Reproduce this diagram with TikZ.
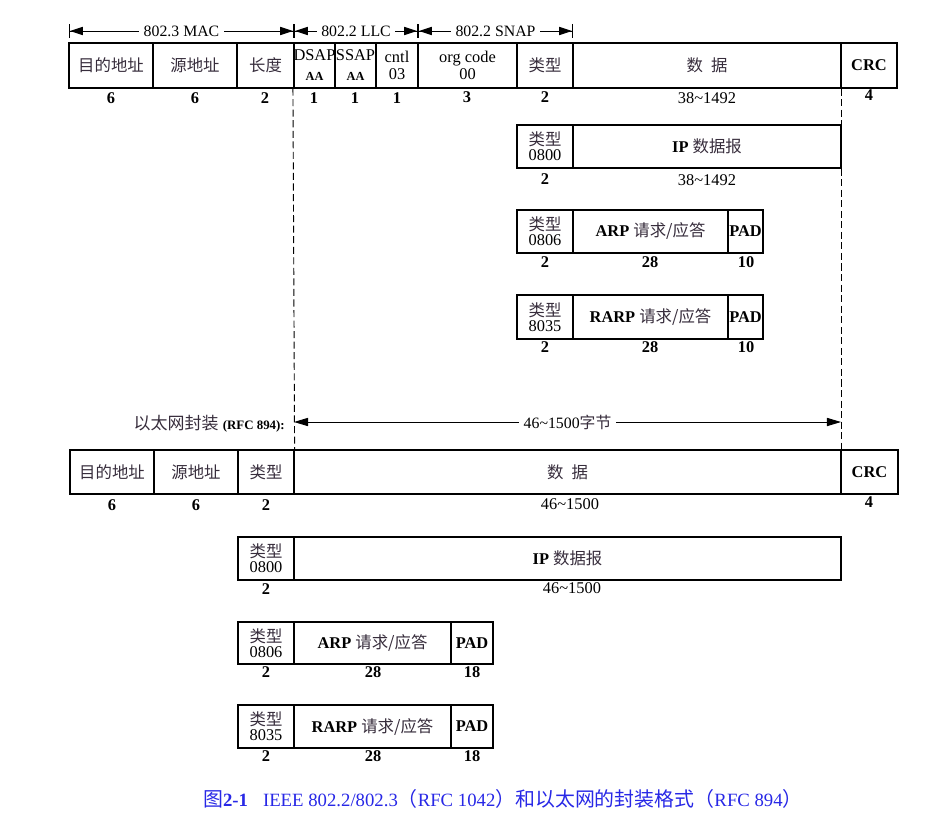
\documentclass[tikz,border=0pt]{standalone}
\usepackage{fontspec}
\setmainfont{Liberation Serif}
\newfontfamily\cjk{Noto Sans CJK SC}
\usetikzlibrary{arrows.meta}
\definecolor{hanzi}{RGB}{55,45,60}
\definecolor{capblue}{RGB}{40,40,230}
\newcommand\zh[1]{{\cjk\color{hanzi}#1}}
\newcommand\capzh[1]{{\cjk\fontsize{17}{18}\selectfont #1}}
\newcommand\tinyb[1]{{\bfseries\fontsize{10.5}{12}\selectfont #1}}

\begin{document}
\begin{tikzpicture}[x=0.03cm,y=-0.03cm,
  fieldbox/.style={draw,line width=1pt,inner sep=0pt,align=center,
    font=\fontsize{14}{16}\selectfont},
  fw/.style={minimum width=#1*0.03cm},
  fh/.style={minimum height=#1*0.03cm},
  numlbl/.style={inner sep=1pt,font=\bfseries\fontsize{14}{16}\selectfont},
  rnglbl/.style={inner sep=1pt,font=\fontsize{14}{16}\selectfont},
  spanarrow/.style={{Bar[width=12pt]Triangle[length=11pt,width=7pt]}-{Triangle[length=11pt,width=7pt]Bar[width=12pt]},line width=0.8pt},
  widearrow/.style={{Triangle[length=12pt,width=7pt]}-{Triangle[length=12pt,width=7pt]},line width=0.8pt},
  spanlbl/.style={fill=white,inner sep=4pt,font=\fontsize{13.5}{16}\selectfont},
  guide/.style={line width=0.8pt,dash pattern=on 6pt off 3pt}]

  \useasboundingbox (0,0) rectangle (930,829);

  % 802.2/802.3 header
  \coordinate (h0) at (69,31);
  \coordinate (h1) at (294,31);
  \coordinate (h2) at (418,31);
  \coordinate (h3) at (573,31);

  \node[fieldbox,fw=84,fh=45] (mdst) at (111,65.5) {\zh{目的地址}};
  \node[fieldbox,fw=84,fh=45] (msrc) at (195,65.5) {\zh{源地址}};
  \node[fieldbox,fw=57,fh=45] (mlen) at (265.5,65.5) {\zh{长度}};
  \node[fieldbox,fw=41,fh=45] (dsap) at (314.5,65.5) {DSAP\\[1pt]\tinyb{AA}};
  \node[fieldbox,fw=41,fh=45] (ssap) at (355.5,65.5) {SSAP\\[1pt]\tinyb{AA}};
  \node[fieldbox,fw=42,fh=45] (cntl) at (397,65.5) {cntl\\[-1pt]03};
  \node[fieldbox,fw=99,fh=45] (org) at (467.5,65.5) {org code\\[-1pt]00};
  \node[fieldbox,fw=56,fh=45] (stype) at (545,65.5) {\zh{类型}};
  \node[fieldbox,fw=268,fh=45] (sdata) at (707,65.5) {\zh{数\hspace{0.5em}据}};
  \node[fieldbox,fw=56,fh=45] (scrc) at (869,65.5) {\bfseries CRC};

  \node[numlbl] (n1) at (111,98) {6};
  \node[numlbl] (n2) at (195,98) {6};
  \node[numlbl] (n3) at (265,98) {2};
  \node[numlbl] (n4) at (314,98) {1};
  \node[numlbl] (n5) at (355,98) {1};
  \node[numlbl] (n6) at (397,98) {1};
  \node[numlbl] (n7) at (467,97) {3};
  \node[numlbl] (n8) at (545,97) {2};
  \node[rnglbl] (n9) at (707,98) {38\textasciitilde 1492};
  \node[numlbl] (n10) at (869,95) {4};

  \node[fieldbox,fw=56,fh=43] (itype) at (545,146.5) {\zh{类型}\\[-3pt]0800};
  \node[fieldbox,fw=268,fh=43] (idata) at (707,146.5) {\textbf{IP} \zh{数据报}};
  \node[numlbl] (i1) at (545,179.5) {2};
  \node[rnglbl] (i2) at (707,180) {38\textasciitilde 1492};

  \node[fieldbox,fw=56,fh=43] (atype) at (545,231.5) {\zh{类型}\\[-3pt]0806};
  \node[fieldbox,fw=155,fh=43] (arp) at (650.5,231.5) {\textbf{ARP} \zh{请求/应答}};
  \node[fieldbox,fw=35,fh=43] (apad) at (745.5,231.5) {\bfseries PAD};
  \node[numlbl] (a1) at (545,262) {2};
  \node[numlbl] (a2) at (650,262) {28};
  \node[numlbl] (a3) at (746,262) {10};

  \node[fieldbox,fw=56,fh=44] (rtype) at (545,317) {\zh{类型}\\[-3pt]8035};
  \node[fieldbox,fw=155,fh=44] (rarp) at (650.5,317) {\textbf{RARP} \zh{请求/应答}};
  \node[fieldbox,fw=35,fh=44] (rpad) at (745.5,317) {\bfseries PAD};
  \node[numlbl] (r1) at (545,347) {2};
  \node[numlbl] (r2) at (650,347) {28};
  \node[numlbl] (r3) at (746,347) {10};

  % Ethernet (RFC 894)
  \node[anchor=east,inner sep=0pt] (ethlbl) at (285,424)
    {\fontsize{14.5}{16}\selectfont\zh{以太网封装} {\bfseries\fontsize{11}{13}\selectfont(RFC 894):}};
  \coordinate (e0) at (294,422);
  \coordinate (e1) at (841,422);

  \node[fieldbox,fw=84,fh=44] (edst) at (112,472) {\zh{目的地址}};
  \node[fieldbox,fw=84,fh=44] (esrc) at (196,472) {\zh{源地址}};
  \node[fieldbox,fw=56,fh=44] (etype) at (266,472) {\zh{类型}};
  \node[fieldbox,fw=547,fh=44] (edata) at (567.5,472) {\zh{数\hspace{0.5em}据}};
  \node[fieldbox,fw=57,fh=44] (ecrc) at (869.5,472) {\bfseries CRC};

  \node[numlbl] (m1) at (112,505) {6};
  \node[numlbl] (m2) at (196,505) {6};
  \node[numlbl] (m3) at (266,505) {2};
  \node[rnglbl] (m4) at (570,504) {46\textasciitilde 1500};
  \node[numlbl] (m5) at (869,502) {4};

  \node[fieldbox,fw=56,fh=43] (jtype) at (266,558.5) {\zh{类型}\\[-3pt]0800};
  \node[fieldbox,fw=547,fh=43] (jdata) at (567.5,558.5) {\textbf{IP} \zh{数据报}};
  \node[numlbl] (j1) at (266,589) {2};
  \node[rnglbl] (j2) at (572,588) {46\textasciitilde 1500};

  \node[fieldbox,fw=56,fh=42] (btype) at (266,643) {\zh{类型}\\[-3pt]0806};
  \node[fieldbox,fw=157,fh=42] (barp) at (372.5,643) {\textbf{ARP} \zh{请求/应答}};
  \node[fieldbox,fw=42,fh=42] (bpad) at (472,643) {\bfseries PAD};
  \node[numlbl] (b1) at (266,672) {2};
  \node[numlbl] (b2) at (373,672) {28};
  \node[numlbl] (b3) at (472,672) {18};

  \node[fieldbox,fw=56,fh=43] (ctype) at (266,726.5) {\zh{类型}\\[-3pt]8035};
  \node[fieldbox,fw=157,fh=43] (carp) at (372.5,726.5) {\textbf{RARP} \zh{请求/应答}};
  \node[fieldbox,fw=42,fh=43] (cpad) at (472,726.5) {\bfseries PAD};
  \node[numlbl] (c1) at (266,756) {2};
  \node[numlbl] (c2) at (373,756) {28};
  \node[numlbl] (c3) at (472,756) {18};

  \node[anchor=west,text=capblue,font=\fontsize{16}{18}\selectfont] (cap) at (199,799)
    {\capzh{图}\textbf{2-1}\hspace{0.8em}IEEE 802.2/802.3\capzh{（}RFC 1042\capzh{）和以太网的封装格式（}RFC 894\capzh{）}};

  \path[spanarrow]
  (h0) edge node[spanlbl] (lmac) {802.3 MAC} (h1)
  (h1) edge node[spanlbl] (lllc) {802.2 LLC} (h2)
  (h2) edge node[spanlbl] (lsnap) {802.2 SNAP} (h3);
  \path[widearrow]
  (e0) edge node[spanlbl] (lbytes) {46\textasciitilde 1500\zh{字节}} (e1);
  \path[guide]
  (dsap.south west) edge (etype.north east)
  (sdata.south east) edge (idata.north east)
  (idata.south east) edge (edata.north east);
\end{tikzpicture}
\end{document}
